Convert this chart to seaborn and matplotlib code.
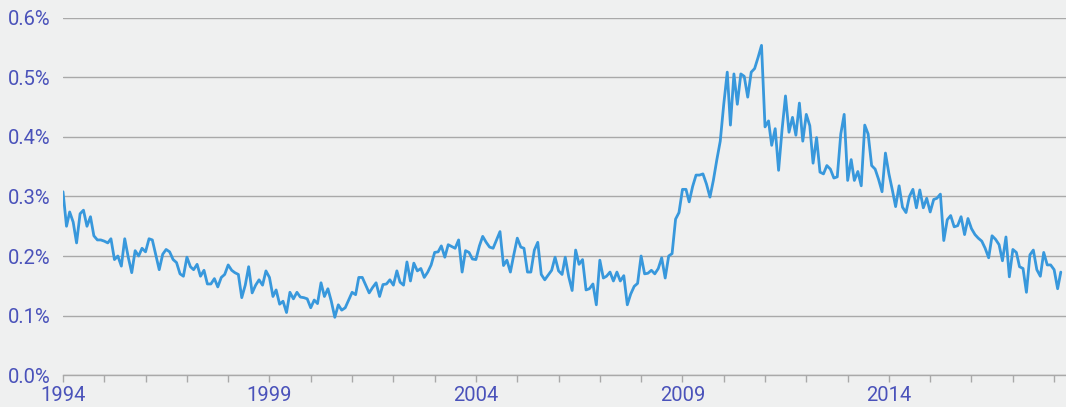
import numpy as np
import pandas as pd
import seaborn as sns
import matplotlib.pyplot as plt
import matplotlib.dates as mdates
from matplotlib.ticker import FuncFormatter

# monthly values in percent, Jan 1994 .. Mar 2018
rate_1994_1998 = [
    0.308, 0.250, 0.274, 0.257, 0.222, 0.271, 0.277, 0.250, 0.266, 0.234,
    0.227, 0.227, 0.225, 0.222, 0.229, 0.194, 0.200, 0.183, 0.229, 0.198,
    0.172, 0.209, 0.200, 0.213, 0.207, 0.229, 0.227, 0.202, 0.177, 0.203,
    0.211, 0.207, 0.194, 0.189, 0.170, 0.166, 0.198, 0.182, 0.177, 0.186,
    0.166, 0.176, 0.153, 0.153, 0.162, 0.148, 0.164, 0.169, 0.185, 0.176,
    0.172,
]
rate_1998_2002 = [
    0.169, 0.130, 0.151, 0.182, 0.138, 0.151, 0.160, 0.151, 0.175, 0.164,
    0.132, 0.143, 0.119, 0.124, 0.105, 0.139, 0.128, 0.139, 0.131, 0.130,
    0.128, 0.113, 0.126, 0.120, 0.155, 0.132, 0.145, 0.124, 0.097, 0.118,
    0.109, 0.113, 0.126, 0.139, 0.135, 0.164, 0.164, 0.151, 0.138, 0.147,
    0.155, 0.132, 0.152, 0.153, 0.160, 0.151, 0.175, 0.156, 0.151,
]
rate_2002_2006 = [
    0.190, 0.158, 0.188, 0.175, 0.179, 0.164, 0.173, 0.185, 0.206, 0.207,
    0.217, 0.198, 0.219, 0.216, 0.213, 0.227, 0.173, 0.209, 0.206, 0.195,
    0.194, 0.217, 0.233, 0.223, 0.215, 0.213, 0.227, 0.241, 0.184, 0.193,
    0.173, 0.202, 0.230, 0.215, 0.213, 0.173, 0.173, 0.210, 0.223, 0.169,
    0.160, 0.168, 0.176, 0.198, 0.175, 0.169, 0.198, 0.165, 0.142,
]
rate_2006_2010 = [
    0.210, 0.186, 0.194, 0.143, 0.145, 0.153, 0.118, 0.193, 0.163, 0.166,
    0.173, 0.158, 0.173, 0.158, 0.167, 0.118, 0.136, 0.149, 0.154, 0.200,
    0.170, 0.171, 0.176, 0.170, 0.179, 0.197, 0.163, 0.200, 0.204, 0.262,
    0.273, 0.312, 0.312, 0.291, 0.317, 0.336, 0.336, 0.338, 0.321, 0.299,
    0.327, 0.362, 0.393, 0.455, 0.509, 0.420, 0.506, 0.455, 0.506,
]
rate_2010_2014 = [
    0.502, 0.467, 0.509, 0.515, 0.534, 0.554, 0.417, 0.427, 0.386, 0.414,
    0.344, 0.413, 0.469, 0.408, 0.433, 0.403, 0.457, 0.393, 0.438, 0.419,
    0.356, 0.399, 0.341, 0.338, 0.352, 0.346, 0.331, 0.333, 0.405, 0.438,
    0.327, 0.362, 0.327, 0.342, 0.318, 0.420, 0.405, 0.352, 0.346, 0.329,
    0.308, 0.373, 0.338, 0.310, 0.283, 0.318, 0.282, 0.273, 0.300, 0.312,
]
rate_2014_2018 = [
    0.281, 0.311, 0.281, 0.297, 0.274, 0.295, 0.297, 0.304, 0.226, 0.261,
    0.268, 0.249, 0.251, 0.266, 0.236, 0.263, 0.246, 0.236, 0.230, 0.225,
    0.213, 0.197, 0.234, 0.228, 0.219, 0.192, 0.232, 0.165, 0.211, 0.206,
    0.182, 0.179, 0.139, 0.202, 0.210, 0.177, 0.166, 0.206, 0.185, 0.185,
    0.177, 0.145, 0.173,
]

rates = (rate_1994_1998 + rate_1998_2002 + rate_2002_2006
         + rate_2006_2010 + rate_2010_2014 + rate_2014_2018)
dates = pd.date_range("1994-01-01", periods=len(rates), freq="MS")
df = pd.DataFrame({"date": dates, "rate": rates})

y_ticks = [0.0, 0.1, 0.2, 0.3, 0.4, 0.5, 0.6]
x_label_years = [1994, 1999, 2004, 2009, 2014]

bg = "#eff0f0"
label_color = "#4a52ba"
grid_color = "#a9a9a9"

sns.set_theme(style="white")
plt.rcParams["font.family"] = ["Roboto", "DejaVu Sans"]

fig = plt.figure(figsize=(10.66, 4.07), dpi=100, facecolor=bg)
ax = fig.add_axes([0.0591, 0.0786, 0.9409, 0.8772])
ax.set_facecolor(bg)

sns.lineplot(data=df, x="date", y="rate", ax=ax, color="#3898dc", linewidth=2.0)

ax.set_ylim(0, 0.6)
ax.set_yticks(y_ticks)
ax.yaxis.set_major_formatter(FuncFormatter(lambda v, p: f"{v:.1f}%"))
ax.set_xlim(pd.Timestamp("1994-01-01"), pd.Timestamp("2018-04-16"))
ax.set_xticks([pd.Timestamp(f"{y}-01-01") for y in x_label_years])
ax.xaxis.set_major_formatter(mdates.DateFormatter("%Y"))
ax.xaxis.set_minor_locator(mdates.YearLocator())

ax.grid(axis="y", color=grid_color, linewidth=1.0)
ax.set_axisbelow(True)
for s in ["top", "right", "left"]:
    ax.spines[s].set_visible(False)
ax.spines["bottom"].set_color(grid_color)
ax.spines["bottom"].set_linewidth(1.0)

ax.tick_params(axis="y", which="major", length=6, width=1, color=grid_color,
               labelsize=14.5, labelcolor=label_color, pad=3)
ax.tick_params(axis="x", which="both", length=5, width=1, color=grid_color,
               direction="out", bottom=True)
ax.tick_params(axis="x", which="major", labelsize=14.5, labelcolor=label_color, pad=3)

ax.set_xlabel("")
ax.set_ylabel("")

fig.savefig("out.png", dpi=100, facecolor=bg)
